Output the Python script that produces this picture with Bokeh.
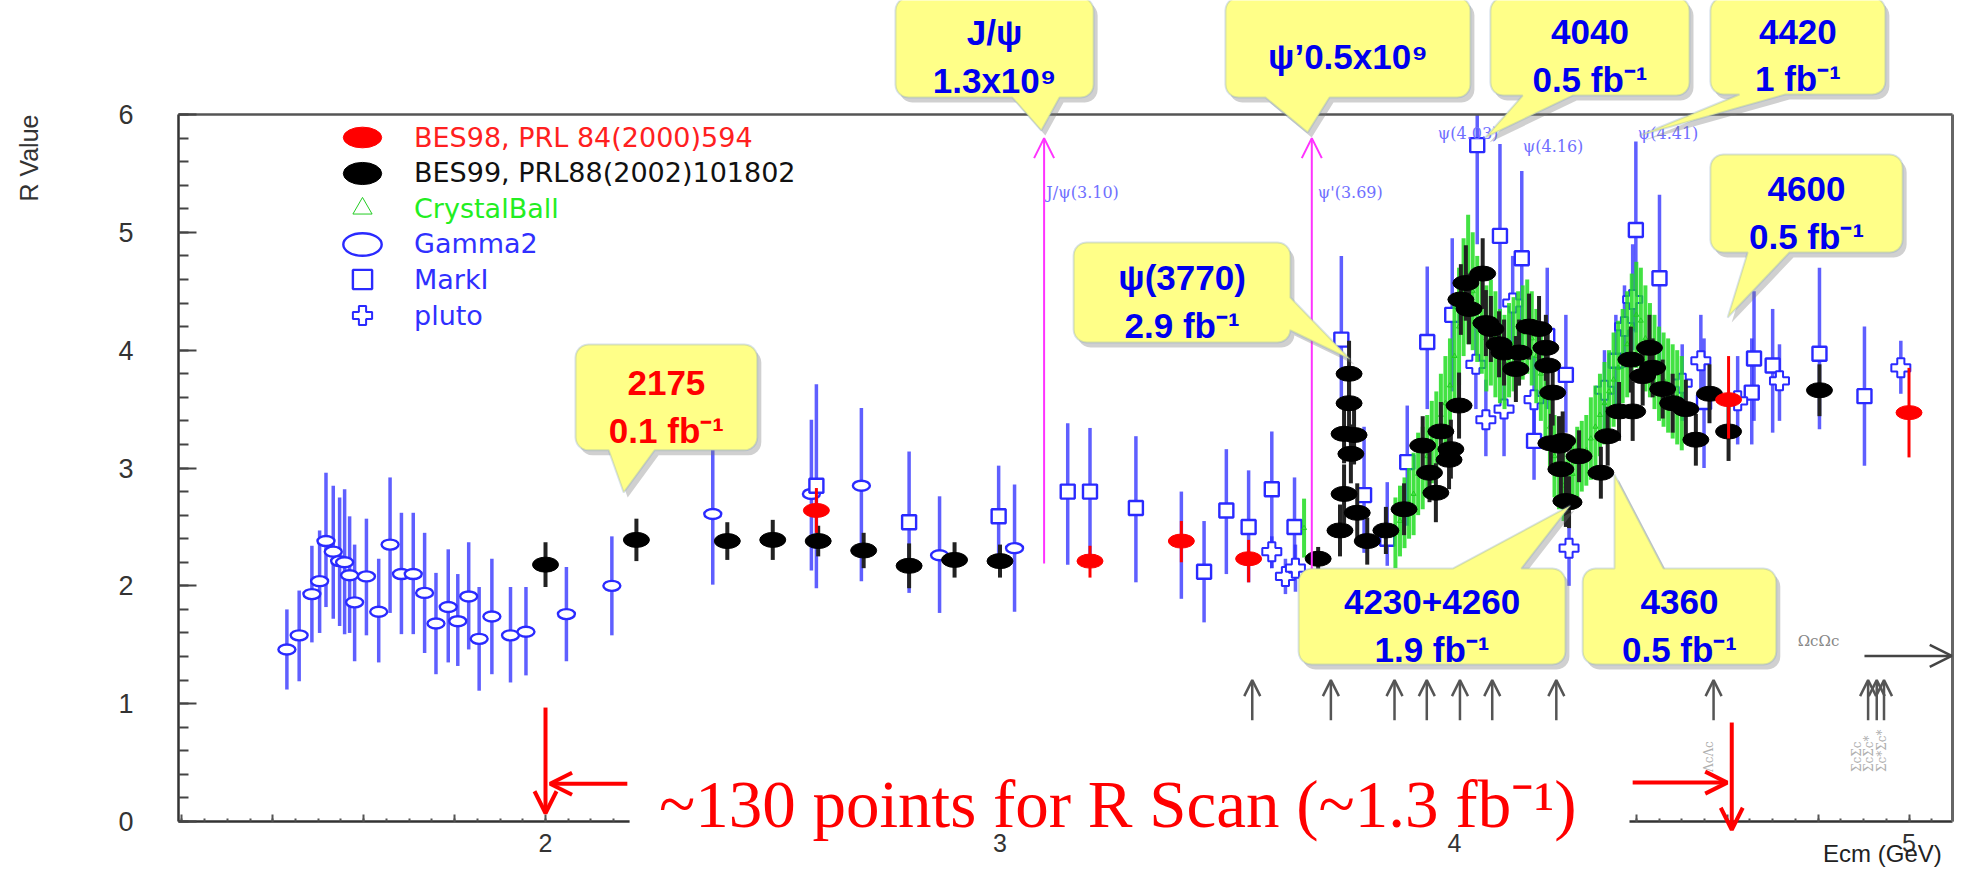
import math
from bokeh.plotting import figure
from bokeh.models import (ColumnDataSource, Label, Arrow, OpenHead, PolyAnnotation, BoxAnnotation,
                          Legend, LegendItem, FixedTicker, SingleIntervalTicker, LinearAxis,
                          CustomJSTickFormatter, Range1d)
from bokeh.embed import file_html
from bokeh.resources import INLINE

# ---------------- data ----------------
# BES98 (red)
bes98_E  = [2.596, 3.198, 3.399, 3.547, 4.603, 5.000]
bes98_R  = [2.64, 2.21, 2.38, 2.23, 3.58, 3.47]
bes98_lo = [2.45, 2.07, 2.20, 2.03, 3.25, 3.09]
bes98_hi = [2.83, 2.34, 2.55, 2.39, 3.95, 3.85]

# BES99 (black)
bes99_E = [2.00, 2.20, 2.40, 2.50, 2.60, 2.70, 2.80, 2.90, 3.00, 3.70,
           3.748, 3.757, 3.757, 3.768, 3.768, 3.772, 3.779, 3.786, 3.808, 3.849,
           3.889, 3.930, 3.945, 3.959, 3.970, 3.988, 3.992, 4.010, 4.014, 4.025,
           4.032, 4.062, 4.069, 4.080, 4.098, 4.109, 4.135, 4.142, 4.164, 4.186,
           4.201, 4.205, 4.212, 4.216, 4.230, 4.234, 4.238, 4.245, 4.252, 4.274,
           4.322, 4.337, 4.362, 4.388, 4.392, 4.414, 4.429, 4.436, 4.458, 4.480,
           4.509, 4.531, 4.561, 4.603, 4.803]
bes99_R = [2.18, 2.39, 2.38, 2.39, 2.38, 2.30, 2.17, 2.22, 2.21, 2.23,
           2.47, 2.78, 3.29, 3.80, 3.55, 3.12, 3.28, 2.62, 2.38, 2.47,
           2.65, 3.19, 2.96, 2.79, 3.31, 3.07, 3.16, 3.53, 4.43, 4.57,
           4.35, 4.65, 4.23, 4.18, 4.05, 3.98, 3.84, 3.98, 4.20, 4.18,
           4.02, 3.87, 3.21, 3.64, 3.19, 2.99, 3.23, 2.72, 2.71, 3.10,
           2.96, 3.27, 3.48, 3.92, 3.48, 3.78, 4.02, 3.85, 3.67, 3.55,
           3.50, 3.24, 3.63, 3.31, 3.66]
bes99_err = [0.19, 0.18, 0.16, 0.17, 0.13, 0.15, 0.19, 0.15, 0.14, 0.10,
             0.22, 0.25, 0.25, 0.28, 0.25, 0.25, 0.25, 0.25, 0.20, 0.20,
             0.22, 0.25, 0.25, 0.25, 0.25, 0.25, 0.25, 0.28, 0.30, 0.32,
             0.30, 0.30, 0.28, 0.28, 0.28, 0.28, 0.28, 0.28, 0.28, 0.28,
             0.28, 0.28, 0.25, 0.28, 0.25, 0.25, 0.25, 0.22, 0.22, 0.22,
             0.22, 0.25, 0.25, 0.28, 0.25, 0.25, 0.28, 0.25, 0.25, 0.25,
             0.25, 0.22, 0.25, 0.25, 0.22]

# CrystalBall (green)
cb_E = [3.669, 3.870, 3.880, 3.890, 3.900, 3.910, 3.920, 3.930, 3.940, 3.950,
        3.960, 3.970, 3.980, 3.990, 4.000, 4.010, 4.020, 4.030, 4.040, 4.050,
        4.060, 4.070, 4.080, 4.090, 4.100, 4.110, 4.120, 4.130, 4.140, 4.150,
        4.160, 4.170, 4.180, 4.190, 4.200, 4.210, 4.220, 4.230, 4.240, 4.250,
        4.260, 4.270, 4.280, 4.290, 4.300, 4.310, 4.320, 4.330, 4.340, 4.350,
        4.360, 4.370, 4.380, 4.390, 4.400, 4.410, 4.420, 4.430, 4.440, 4.450,
        4.460, 4.470, 4.480, 4.490, 4.500]
cb_R = [2.49, 2.45, 2.55, 2.62, 2.70, 2.78, 2.95, 3.00, 3.10, 3.22,
        3.30, 3.45, 3.55, 3.70, 3.95, 4.20, 4.45, 4.60, 4.50, 4.35,
        4.25, 4.10, 4.15, 4.05, 3.95, 3.90, 4.00, 4.05, 4.10, 4.15,
        4.20, 4.10, 3.95, 3.80, 3.60, 3.35, 3.10, 2.95, 2.85, 2.80,
        2.95, 3.05, 3.10, 3.15, 3.25, 3.35, 3.45, 3.55, 3.65, 3.75,
        3.85, 3.95, 4.05, 4.20, 4.30, 4.25, 4.10, 4.00, 3.90, 3.80,
        3.75, 3.70, 3.65, 3.60, 3.55]
cb_err = [0.25, 0.30, 0.30, 0.30, 0.30, 0.35, 0.35, 0.35, 0.35, 0.35,
          0.35, 0.35, 0.40, 0.40, 0.45, 0.50, 0.50, 0.55, 0.50, 0.45,
          0.45, 0.45, 0.45, 0.45, 0.40, 0.40, 0.40, 0.40, 0.40, 0.40,
          0.40, 0.40, 0.40, 0.40, 0.40, 0.35, 0.35, 0.30, 0.30, 0.30,
          0.30, 0.30, 0.30, 0.30, 0.35, 0.35, 0.35, 0.35, 0.35, 0.40,
          0.40, 0.40, 0.45, 0.45, 0.45, 0.45, 0.45, 0.40, 0.40, 0.40,
          0.40, 0.40, 0.40, 0.40, 0.40]

# Gamma2 (blue open circles)
g2_E  = [1.431, 1.458, 1.486, 1.503, 1.517, 1.533, 1.547, 1.558, 1.569, 1.580,
         1.606, 1.633, 1.658, 1.683, 1.709, 1.734, 1.759, 1.786, 1.807, 1.831,
         1.854, 1.882, 1.923, 1.957, 2.046, 2.146, 2.368, 2.585, 2.695, 2.867,
         3.032, 3.399]
g2_R  = [1.46, 1.58, 1.93, 2.04, 2.38, 2.29, 2.21, 2.20, 2.09, 1.86,
         2.08, 1.78, 2.35, 2.10, 2.10, 1.94, 1.68, 1.82, 1.70, 1.91,
         1.55, 1.74, 1.58, 1.61, 1.76, 2.00, 2.61, 2.78, 2.85, 2.26,
         2.32, 2.38]
g2_lo = [1.12, 1.19, 1.52, 1.60, 1.82, 1.72, 1.66, 1.59, 1.60, 1.36,
         1.58, 1.35, 1.77, 1.59, 1.59, 1.43, 1.25, 1.35, 1.32, 1.46,
         1.11, 1.25, 1.18, 1.24, 1.36, 1.58, 2.01, 2.13, 2.04, 1.77,
         1.78, 1.89]
g2_hi = [1.80, 1.96, 2.34, 2.47, 2.96, 2.85, 2.75, 2.82, 2.59, 2.35,
         2.57, 2.23, 2.92, 2.62, 2.62, 2.45, 2.11, 2.31, 2.10, 2.37,
         1.99, 2.23, 1.99, 1.99, 2.16, 2.42, 3.72, 3.41, 3.51, 2.76,
         2.86, 2.80]

# MarkI (blue open squares)
mk_E  = [2.596, 2.800, 2.997, 3.149, 3.198, 3.299, 3.449, 3.498, 3.547, 3.598,
         3.648, 3.751, 3.801, 3.852, 3.896, 3.940, 3.995, 4.050, 4.100, 4.148,
         4.175, 4.204, 4.245, 4.355, 4.399, 4.451, 4.549, 4.654, 4.659, 4.700,
         4.803, 4.902]
mk_R  = [2.85, 2.54, 2.59, 2.80, 2.80, 2.66, 2.12, 2.64, 2.50, 2.82,
         2.50, 4.09, 2.77, 2.40, 3.05, 4.07, 4.30, 5.74, 4.97, 4.78,
         3.23, 4.12, 3.79, 3.91, 5.02, 4.61, 3.56, 3.64, 3.93, 3.87,
         3.97, 3.61]
mk_lo = [1.98, 1.94, 2.24, 2.18, 2.21, 2.03, 1.69, 2.10, 2.03, 2.15,
         2.10, 3.55, 2.28, 2.17, 2.51, 3.50, 3.65, 4.90, 4.20, 4.00,
         2.90, 3.50, 3.30, 3.50, 4.15, 3.90, 3.00, 3.20, 3.40, 3.30,
         3.33, 3.02]
mk_hi = [3.71, 3.14, 3.02, 3.38, 3.34, 3.27, 2.55, 3.16, 2.98, 3.31,
         2.92, 4.80, 3.35, 2.88, 3.53, 4.71, 4.95, 6.00, 5.75, 5.52,
         3.60, 4.70, 4.30, 4.30, 5.77, 5.32, 4.10, 4.10, 4.50, 4.35,
         4.70, 4.20]

# pluto (blue open crosses)
pl_E  = [3.598, 3.628, 3.650, 4.047, 4.069, 4.109, 4.128, 4.175, 4.252, 4.330,
         4.374, 4.392, 4.501, 4.542, 4.623, 4.715, 4.982]
pl_R  = [2.29, 2.08, 2.15, 3.88, 3.41, 3.50, 4.40, 3.58, 2.32, 3.66,
         4.20, 4.43, 3.72, 3.91, 3.57, 3.74, 3.85]
pl_lo = [2.15, 1.93, 1.95, 3.50, 3.10, 3.10, 4.00, 3.20, 2.00, 3.30,
         3.85, 4.00, 3.40, 3.50, 3.20, 3.40, 3.63]
pl_hi = [2.42, 2.23, 2.35, 4.20, 3.75, 3.90, 4.80, 3.95, 2.70, 4.00,
         4.55, 4.90, 4.05, 4.30, 3.95, 4.05, 4.08]

# resonances (magenta arrows) and ROOT labels
res_E = [3.097, 3.686]
res_R_low = [2.19, 1.95]
res_labels = ["J/ψ(3.10)", "ψ'(3.69)", "ψ(4.03)", "ψ(4.16)", "ψ(4.41)"]
res_label_E = [3.102, 3.699, 3.963, 4.150, 4.403]
res_label_R = [5.34, 5.34, 5.84, 5.73, 5.84]

# production thresholds (grey arrows)
thr_E = [3.555, 3.728, 3.868, 3.939, 4.012, 4.083, 4.224, 4.570, 4.910, 4.929, 4.945]

# callouts: text, colour, box (E left, E right, R bottom, R top), tail edge, tail base, tail tip (E, R)
callouts = [
    ("2175\n0.1 fb⁻¹", "#ff0000", (2.066, 2.466, 3.150, 4.048), "bottom", (2.139, 2.240), (2.172, 2.792)),
    ("J/ψ\n1.3x10⁹", "#0000ee", (2.770, 3.206, 6.144, 6.993), "bottom", (3.027, 3.131), (3.091, 5.864)),
    ("ψ’0.5x10⁹", "#0000ee", (3.496, 4.035, 6.144, 6.993), "bottom", (3.584, 3.725), (3.677, 5.847)),
    ("4040\n0.5 fb⁻¹", "#0000ee", (4.079, 4.517, 6.161, 6.993), "bottom", (4.150, 4.260), (4.068, 5.805)),
    ("4420\n1 fb⁻¹", "#0000ee", (4.563, 4.948, 6.170, 6.993), "bottom", (4.627, 4.728), (4.407, 5.822)),
    ("4600\n0.5 fb⁻¹", "#0000ee", (4.563, 4.986, 4.829, 5.661), "bottom", (4.645, 4.737), (4.601, 4.277)),
    ("ψ(3770)\n2.9 fb⁻¹", "#0000ee", (3.162, 3.639, 4.065, 4.914), "right", (4.167, 4.447), (3.771, 3.921)),
    ("4230+4260\n1.9 fb⁻¹", "#0000ee", (3.657, 4.244, 1.332, 2.147), "top", (3.996, 4.147), (4.255, 2.682)),
    ("4360\n0.5 fb⁻¹", "#0000ee", (4.282, 4.708, 1.332, 2.147), "top", (4.352, 4.460), (4.352, 2.945)),
]

x_major_ticks = [round(1.2 + 0.2 * k, 2) for k in range(20)]
x_minor_ticks = [round(1.2 + 0.05 * k, 3) for k in range(79)]

# ---------------- layout ----------------
# The frame fills the whole canvas; ROOT-style axes are drawn at fixed data locations inside it.
W, H = 1954, 872
SX, SY = 454.5, 117.83            # pixels per GeV, pixels per R unit
E_LEFT, E_RIGHT = 1.1925, 5.096   # ROOT frame edges
R_BOT, R_TOP = 0.0, 6.0
X0 = E_LEFT - (186 - 8) / SX
X1 = X0 + W / SX
Y0 = R_BOT - (880 - 829) / SY
Y1 = Y0 + H / SY

p = figure(width=W, height=H, x_range=Range1d(X0, X1), y_range=Range1d(Y0, Y1),
           output_backend="svg", toolbar_location=None,
           min_border_left=0, min_border_right=0, min_border_top=0, min_border_bottom=0)
p.title.visible = False
p.outline_line_color = None
p.xgrid.visible = False
p.ygrid.visible = False
p.background_fill_color = "white"
p.border_fill_color = "white"

# y axis (ROOT style, inward ticks)
ya = p.yaxis[0]
ya.fixed_location = E_LEFT
ya.bounds = (R_BOT, R_TOP)
ya.ticker = SingleIntervalTicker(interval=1, num_minor_ticks=5)
ya.major_tick_in, ya.major_tick_out = 18, 0
ya.minor_tick_in, ya.minor_tick_out = 10, 0
ya.axis_line_width = 2.5
ya.axis_line_color = "#333333"
ya.major_tick_line_width = 2
ya.minor_tick_line_width = 2
ya.major_tick_line_color = "#444444"
ya.minor_tick_line_color = "#444444"
ya.major_label_text_font = "Liberation Sans"
ya.major_label_text_font_size = "27px"
ya.major_label_text_color = "#333333"
ya.major_label_standoff = 45

xa = p.xaxis[0]
xa.fixed_location = R_BOT
xa.bounds = (E_LEFT, E_RIGHT)
xa.ticker = FixedTicker(ticks=x_major_ticks, minor_ticks=x_minor_ticks)
xa.formatter = CustomJSTickFormatter(code="const r = Math.round(tick); return Math.abs(tick - r) < 1e-6 ? r.toString() : '';")
xa.major_tick_in, xa.major_tick_out = 7, 0
xa.minor_tick_in, xa.minor_tick_out = 3, 0
xa.axis_line_width = 2.5
xa.axis_line_color = "#333333"
xa.major_tick_line_width = 2
xa.minor_tick_line_width = 2
xa.major_tick_line_color = "#555555"
xa.minor_tick_line_color = "#555555"
xa.major_label_text_font = "Liberation Sans"
xa.major_label_text_font_size = "25px"
xa.major_label_text_color = "#333333"
xa.major_label_standoff = 12

# frame top / right
p.add_layout(LinearAxis(fixed_location=R_TOP, bounds=(E_LEFT, E_RIGHT), ticker=FixedTicker(ticks=[]),
                        axis_line_color="#555555", axis_line_width=2.5), "above")
p.add_layout(LinearAxis(fixed_location=E_RIGHT, bounds=(R_BOT, R_TOP), ticker=FixedTicker(ticks=[]),
                        axis_line_color="#666666", axis_line_width=3), "right")

BLUE = "#2a2aff"

# ---------------- data series ----------------
def errsrc(E, R, lo, hi):
    return ColumnDataSource(dict(e=E, r=R, lo=lo, hi=hi))

g2 = errsrc(g2_E, g2_R, g2_lo, g2_hi)
mk = errsrc(mk_E, mk_R, mk_lo, mk_hi)
pl = errsrc(pl_E, pl_R, pl_lo, pl_hi)
cb = ColumnDataSource(dict(e=cb_E, r=cb_R, lo=[r - d for r, d in zip(cb_R, cb_err)],
                           hi=[r + d for r, d in zip(cb_R, cb_err)]))
b99 = ColumnDataSource(dict(e=bes99_E, r=bes99_R, lo=[r - d for r, d in zip(bes99_R, bes99_err)],
                            hi=[r + d for r, d in zip(bes99_R, bes99_err)]))
b98 = errsrc(bes98_E, bes98_R, bes98_lo, bes98_hi)

for src in (g2, mk, pl):
    p.segment(x0="e", y0="lo", x1="e", y1="hi", source=src, line_color=BLUE, line_alpha=0.75, line_width=3.5)
r_g2 = p.ellipse(x="e", y="r", width=17, height=10, width_units="screen", height_units="screen",
                 source=g2, fill_color="white", line_color=BLUE, line_width=2.4)
r_mk = p.scatter(x="e", y="r", source=mk, marker="square", size=14, fill_color="white",
                 line_color=BLUE, line_width=2.4)
r_pl = p.scatter(x="e", y="r", source=pl, marker="plus", size=19, fill_color="white",
                 line_color=BLUE, line_width=2.0)

p.segment(x0="e", y0="lo", x1="e", y1="hi", source=cb, line_color="#22dd22", line_alpha=0.85, line_width=4)
r_cb = p.scatter(x="e", y="r", source=cb, marker="triangle", size=5, fill_color=None,
                 line_color="#22cc22", line_width=1.0)

p.segment(x0="e", y0="lo", x1="e", y1="hi", source=b99, line_color="#222222", line_width=4)
r_99 = p.ellipse(x="e", y="r", width=26, height=15, width_units="screen", height_units="screen",
                 source=b99, fill_color="black", line_color="black")

p.segment(x0="e", y0="lo", x1="e", y1="hi", source=b98, line_color="#ff0000", line_width=3)
r_98 = p.ellipse(x="e", y="r", width=26, height=14, width_units="screen", height_units="screen",
                 source=b98, fill_color="#ff0000", line_color="#ff0000")

# ---------------- legend (one legend per row so each label keeps its own colour) ----------------
legend_rows = [
    ("BES98, PRL 84(2000)594", r_98, "#ff2020"),
    ("BES99, PRL88(2002)101802", r_99, "#111111"),
    ("CrystalBall", r_cb, "#22ee22"),
    ("Gamma2", r_g2, "#3030ff"),
    ("MarkI", r_mk, "#3030ff"),
    ("pluto", r_pl, "#3030ff"),
]
for i, (txt, rend, col) in enumerate(legend_rows):
    cy = 145 + 35.6 * i
    yb = (880 - cy) - 24
    lg = Legend(items=[LegendItem(label=txt, renderers=[rend])], location=(338, yb),
                padding=0, margin=0, spacing=0, glyph_width=48, glyph_height=48,
                label_height=48, label_standoff=28, label_text_font_size="27px",
                label_text_font="DejaVu Sans", label_text_color=col,
                background_fill_alpha=0, border_line_alpha=0)
    p.add_layout(lg)

# ---------------- resonance arrows and ROOT labels ----------------
for e, rl in zip(res_E, res_R_low):
    p.add_layout(Arrow(x_start=e, y_start=rl, x_end=e, y_end=5.80, line_color="#ff33ff", line_width=2,
                       end=OpenHead(size=20, line_color="#ff33ff", line_width=2)))
for t, e, r in zip(res_labels, res_label_E, res_label_R):
    p.add_layout(Label(x=e, y=r, text=t, text_font="DejaVu Serif", text_font_size="16px",
                       text_color="#7070ff", text_baseline="middle", text_align="left"))

# threshold arrows
thr = ColumnDataSource(dict(x=thr_E, y0=[0.86] * len(thr_E), y1=[1.20] * len(thr_E)))
p.add_layout(Arrow(x_start="x", y_start="y0", x_end="x", y_end="y1", source=thr,
                   line_color="#555555", line_width=2.5,
                   end=OpenHead(size=16, line_color="#555555", line_width=2.5)))
p.add_layout(Arrow(x_start=4.902, y_start=1.405, x_end=5.094, y_end=1.405, line_color="#444444", line_width=2.5,
                   end=OpenHead(size=22, line_color="#444444", line_width=2.5)))
p.add_layout(Label(x=4.755, y=1.53, text="ΩcΩc", text_font="DejaVu Serif", text_font_size="15px",
                   text_color="#888888", text_baseline="middle"))
for e, t in [(4.560, "ΛcΛc"), (4.885, "ΣcΣc"), (4.912, "ΣcΣc*"), (4.940, "Σc*Σc*")]:
    p.add_layout(Label(x=e, y=0.42, text=t, angle=math.pi / 2, text_font="DejaVu Serif",
                       text_font_size="12px", text_color="#b0b0b0", text_baseline="middle"))

# ---------------- callouts ----------------
def to_px(e, r):
    return ((e - X0) * SX, (r - Y0) * SY)

def to_data(pt):
    return (X0 + pt[0] / SX, Y0 + pt[1] / SY)

def callout_points(box, edge, base, tip, rad=13.0):
    El, Er, Rb, Rt = box
    L, B = to_px(El, Rb)
    R_, T = to_px(Er, Rt)
    if edge in ("bottom", "top"):
        bpx = sorted(to_px(b, 0)[0] for b in base)
    else:
        bpx = sorted(to_px(0, b)[1] for b in base)
    apex = to_px(*tip)

    def arc(cx, cy, a0, a1, n=6):
        return [(cx + rad * math.cos(math.radians(a0 + (a1 - a0) * k / n)),
                 cy + rad * math.sin(math.radians(a0 + (a1 - a0) * k / n))) for k in range(n + 1)]

    pts = [(L + rad, B)]
    if edge == "bottom":
        pts += [(bpx[0], B), apex, (bpx[1], B)]
    pts += arc(R_ - rad, B + rad, -90, 0)
    if edge == "right":
        pts += [(R_, bpx[0]), apex, (R_, bpx[1])]
    pts += arc(R_ - rad, T - rad, 0, 90)
    if edge == "top":
        pts += [(bpx[1], T), apex, (bpx[0], T)]
    pts += arc(L + rad, T - rad, 90, 180)
    pts += arc(L + rad, B + rad, 180, 270)
    return pts

TEXT_SHIFT = 9 / SY   # centre the two-line text block in its box
for txt, col, box, edge, base, tip in callouts:
    pts = callout_points(box, edge, base, tip)
    sh = [to_data((x + 4, y - 5)) for x, y in pts]
    main = [to_data(pt) for pt in pts]
    p.add_layout(PolyAnnotation(xs=[a for a, _ in sh], ys=[b for _, b in sh],
                                fill_color="#777777", fill_alpha=0.35, line_alpha=0))
    p.add_layout(PolyAnnotation(xs=[a for a, _ in main], ys=[b for _, b in main],
                                fill_color="#ffff88", fill_alpha=1.0, line_color="#7b9cc4", line_width=2))
    p.add_layout(Label(x=(box[0] + box[1]) / 2, y=(box[2] + box[3]) / 2 - TEXT_SHIFT, text=txt,
                       text_font="Liberation Sans", text_font_style="bold", text_font_size="35px",
                       text_color=col, text_align="center", text_baseline="middle", text_line_height=1.22))

# ---------------- bottom annotation ----------------
p.add_layout(BoxAnnotation(left=2.185, right=4.385, bottom=-0.06, top=0.84,
                           fill_color="white", fill_alpha=1.0, line_alpha=0))
p.add_layout(Label(x=3.259, y=0.15, text="~130 points for R Scan (~1.3 fb⁻¹)",
                   text_font="Liberation Serif", text_font_size="67px", text_color="#ff0000",
                   text_align="center", text_baseline="alphabetic"))
RED = "#ff0000"
for xs, ys, xe, ye in [(2.0, 0.967, 2.0, 0.07), (2.18, 0.32, 2.01, 0.32),
                       (4.392, 0.33, 4.60, 0.33), (4.61, 0.84, 4.61, -0.07)]:
    p.add_layout(Arrow(x_start=xs, y_start=ys, x_end=xe, y_end=ye, line_color=RED, line_width=4,
                       end=OpenHead(size=22, line_color=RED, line_width=4)))

# axis titles (ROOT style placement)
p.add_layout(Label(x=0.8625, y=6.0, text="R Value", angle=math.pi / 2, text_align="right",
                   text_baseline="middle", text_font="Liberation Sans", text_font_size="25px",
                   text_color="#333333"))
p.add_layout(Label(x=5.072, y=-0.27, text="Ecm (GeV)", text_align="right", text_baseline="alphabetic",
                   text_font="Liberation Sans", text_font_size="24px", text_color="#222222"))

open("out.html", "w").write(file_html(p, INLINE))
